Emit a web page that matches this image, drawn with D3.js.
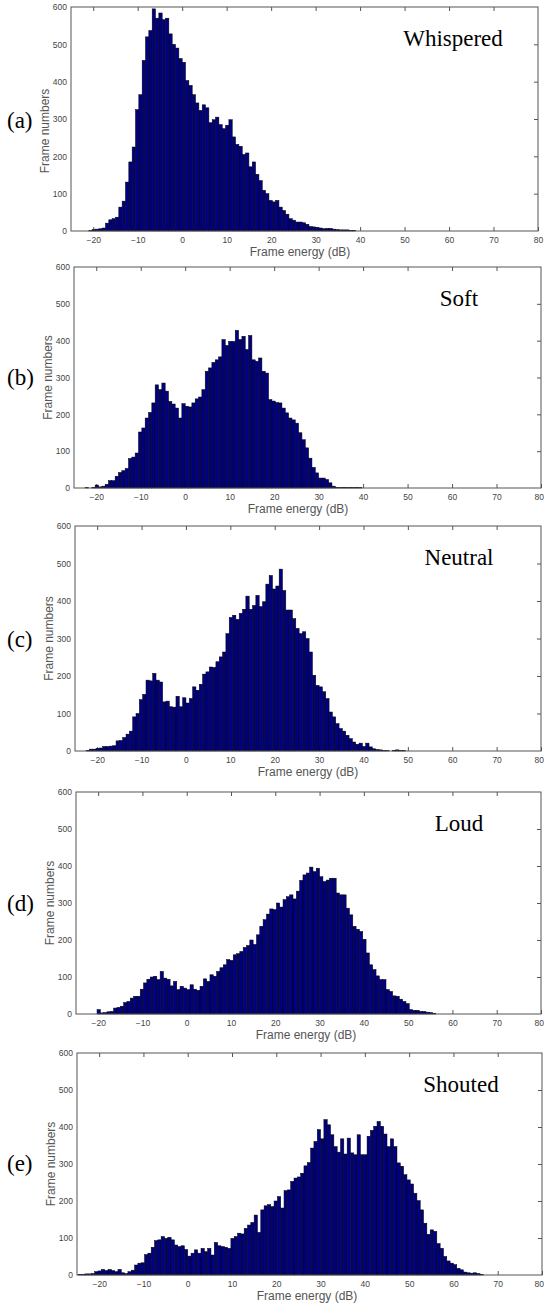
<!DOCTYPE html>
<html>
<head>
<meta charset="utf-8">
<script src="https://cdn.jsdelivr.net/npm/d3@7"></script>
<style>
  body { margin: 0; background: #fff; }
  svg { display: block; }
  .tick text { font-family: "Liberation Sans", Arial, sans-serif; font-size: 8.5px; fill: #444; }
  .tick line { stroke: #555; }
</style>
</head>
<body>
<div id="chart"></div>
<script>
// histogram bin settings (dB)
const binWidth  = 0.75;
const binStarts = [-21, -22.5, -22.5, -20.25, -24.75];

// frame counts per bin
const countsWhispered = [
  1, 4, 5, 6, 8, 21, 30, 33, 37, 64,
  80, 131, 185, 225, 325, 365, 457, 520, 537, 595,
  570, 584, 566, 570, 528, 500, 490, 462, 452, 403,
  390, 365, 343, 323, 338, 330, 290, 298, 305, 285,
  274, 283, 298, 252, 232, 227, 205, 209, 172, 185,
  152, 135, 109, 100, 82, 78, 82, 64, 55, 45,
  33, 29, 24, 24, 22, 18, 12, 11, 10, 8,
  6, 7, 7, 5, 4, 3, 3, 3, 2, 2
];
const countsSoft = [
  1, 0, 2, 8, 3, 5, 10, 20, 20, 32,
  42, 47, 53, 80, 84, 95, 152, 163, 190, 205,
  231, 280, 267, 285, 263, 235, 228, 217, 190, 229,
  222, 220, 231, 242, 247, 267, 317, 326, 341, 348,
  356, 403, 387, 398, 398, 428, 403, 412, 376, 414,
  348, 344, 353, 317, 312, 240, 236, 232, 231, 217,
  204, 190, 185, 176, 150, 131, 109, 81, 56, 41,
  27, 27, 23, 14, 5, 2, 1, 2, 1, 2,
  1, 2, 1
];
const countsNeutral = [
  2, 5, 5, 7, 8, 12, 12, 13, 14, 27,
  28, 36, 45, 53, 91, 100, 137, 151, 189, 187,
  207, 189, 184, 131, 133, 118, 117, 146, 118, 142,
  128, 140, 171, 162, 178, 205, 211, 224, 223, 238,
  251, 264, 313, 356, 362, 351, 367, 378, 413, 378,
  388, 415, 385, 398, 445, 468, 432, 440, 485, 428,
  376, 376, 353, 327, 313, 318, 300, 264, 202, 175,
  171, 158, 140, 104, 91, 73, 60, 53, 42, 33,
  24, 18, 21, 12, 21, 11, 6, 4, 3, 1,
  1, 0, 2, 3, 1, 1
];
const countsLoud = [
  12, 3, 4, 6, 7, 16, 18, 21, 31, 34,
  43, 48, 48, 67, 84, 94, 100, 102, 93, 115,
  97, 94, 76, 88, 66, 75, 70, 66, 79, 67,
  64, 75, 95, 88, 106, 102, 115, 125, 133, 147,
  145, 160, 163, 169, 180, 185, 200, 188, 214, 237,
  255, 270, 284, 282, 300, 289, 309, 317, 322, 311,
  332, 361, 376, 381, 397, 385, 394, 371, 358, 362,
  367, 367, 327, 322, 322, 286, 268, 237, 229, 223,
  202, 165, 133, 120, 103, 93, 93, 66, 61, 49,
  48, 40, 34, 28, 12, 10, 10, 7, 7, 5,
  4, 2
];
const countsShouted = [
  2, 2, 3, 3, 4, 9, 11, 15, 12, 15,
  12, 9, 15, 6, 4, 9, 13, 27, 32, 33,
  55, 59, 75, 93, 95, 104, 99, 102, 95, 81,
  77, 79, 69, 51, 59, 68, 59, 72, 63, 72,
  54, 88, 79, 77, 75, 72, 99, 104, 113, 111,
  126, 135, 142, 162, 115, 176, 187, 190, 185, 200,
  212, 181, 228, 230, 253, 262, 265, 275, 295, 304,
  343, 361, 393, 368, 420, 406, 379, 347, 332, 368,
  327, 370, 330, 325, 379, 325, 325, 375, 391, 402,
  415, 402, 381, 347, 368, 347, 303, 294, 271, 257,
  246, 221, 201, 176, 140, 110, 122, 118, 85, 72,
  50, 38, 32, 28, 18, 14, 8, 6, 5, 6,
  4, 2
];

const panelNames = ["Whispered", "Soft", "Neutral", "Loud", "Shouted"];
const panelTags  = ["(a)", "(b)", "(c)", "(d)", "(e)"];
const xTicks = [-20, -10, 0, 10, 20, 30, 40, 50, 60, 70, 80];
const yTicks = [0, 100, 200, 300, 400, 500, 600];
const xLabel = "Frame energy (dB)";
const yLabel = "Frame numbers";

const allCounts = [countsWhispered, countsSoft, countsNeutral, countsLoud, countsShouted];

// plot boxes in page pixels
const boxes = [
  { l: 71, t: 7,    r: 538, b: 231,  tagY: 120,  titleX: 453, ylabDy: 12, xlabX: 300 },
  { l: 74, t: 267,  r: 541, b: 488,  tagY: 377,  titleX: 459, ylabDy: 0,  xlabX: 298 },
  { l: 75, t: 526,  r: 541, b: 751,  tagY: 639,  titleX: 459, ylabDy: 0,  xlabX: 308 },
  { l: 76, t: 792,  r: 541, b: 1014, tagY: 903,  titleX: 459, ylabDy: 0,  xlabX: 306 },
  { l: 77, t: 1053, r: 542, b: 1275, tagY: 1163, titleX: 461, ylabDy: 0,  xlabX: 307 }
];

const W = 544, H = 1306;
const svg = d3.select("#chart").append("svg")
  .attr("width", W).attr("height", H);

panelNames.forEach((name, i) => {
  const bx = boxes[i];
  const counts = allCounts[i];
  const x = d3.scaleLinear().domain([-25, 80]).range([bx.l, bx.r]);
  const y = d3.scaleLinear().domain([0, 600]).range([bx.b, bx.t]);

  const g = svg.append("g").attr("class", "panel");

  // ticks (inward, all four sides)
  const axB = g.append("g")
    .attr("transform", `translate(0,${bx.b})`)
    .call(d3.axisBottom(x).tickValues(xTicks).tickSizeInner(-4).tickSizeOuter(0).tickPadding(6));
  axB.select(".domain").remove();
  // keep the last label inside the page
  axB.selectAll(".tick text")
    .filter(d => d === 80 && x(80) + 5 > W)
    .attr("text-anchor", "end").attr("x", W - x(80) - 0.5);

  const axT = g.append("g")
    .attr("transform", `translate(0,${bx.t})`)
    .call(d3.axisTop(x).tickValues(xTicks.slice(0, -1)).tickSizeInner(-4).tickSizeOuter(0).tickFormat(""));
  axT.select(".domain").remove();

  const axL = g.append("g")
    .attr("transform", `translate(${bx.l},0)`)
    .call(d3.axisLeft(y).tickValues(yTicks).tickSize(0).tickPadding(4));
  axL.select(".domain").remove();

  const axR = g.append("g")
    .attr("transform", `translate(${bx.r},0)`)
    .call(d3.axisRight(y).tickValues(yTicks.slice(1, -1)).tickSizeInner(-4).tickSizeOuter(0).tickFormat(""));
  axR.select(".domain").remove();

  // bars
  g.append("g").selectAll("rect")
    .data(counts)
    .join("rect")
    .attr("x", (d, k) => x(binStarts[i] + k * binWidth))
    .attr("width", (d, k) => x(binStarts[i] + (k + 1) * binWidth) - x(binStarts[i] + k * binWidth))
    .attr("y", d => y(d))
    .attr("height", d => y(0) - y(d))
    .attr("fill", "#000080")
    .attr("stroke", "#000")
    .attr("stroke-width", 0.5);

  // frame
  g.append("rect")
    .attr("x", bx.l).attr("y", bx.t)
    .attr("width", bx.r - bx.l).attr("height", bx.b - bx.t)
    .attr("fill", "none").attr("stroke", "#555").attr("stroke-width", 1);

  // axis titles
  g.append("text")
    .attr("x", bx.xlabX).attr("y", bx.b + 21)
    .attr("text-anchor", "middle").attr("dominant-baseline", "central")
    .style("font-family", "Liberation Sans, Arial, sans-serif")
    .style("font-size", "12px").style("fill", "#555")
    .text(xLabel);

  const cy = (bx.t + bx.b) / 2 + bx.ylabDy;
  g.append("text")
    .attr("transform", `translate(${bx.l - 26.5},${cy}) rotate(-90)`)
    .attr("text-anchor", "middle").attr("dominant-baseline", "central")
    .style("font-family", "Liberation Sans, Arial, sans-serif")
    .style("font-size", "12px").style("fill", "#555")
    .text(yLabel);

  // panel name + tag
  g.append("text")
    .attr("x", bx.titleX).attr("y", bx.t + 39)
    .attr("text-anchor", "middle")
    .style("font-family", "Liberation Serif, Times New Roman, serif")
    .style("font-size", "23px").style("fill", "#000")
    .text(name);

  g.append("text")
    .attr("x", 7).attr("y", bx.tagY)
    .attr("dominant-baseline", "central")
    .style("font-family", "Liberation Serif, Times New Roman, serif")
    .style("font-size", "23px").style("fill", "#000")
    .text(panelTags[i]);
});
</script>
</body>
</html>
